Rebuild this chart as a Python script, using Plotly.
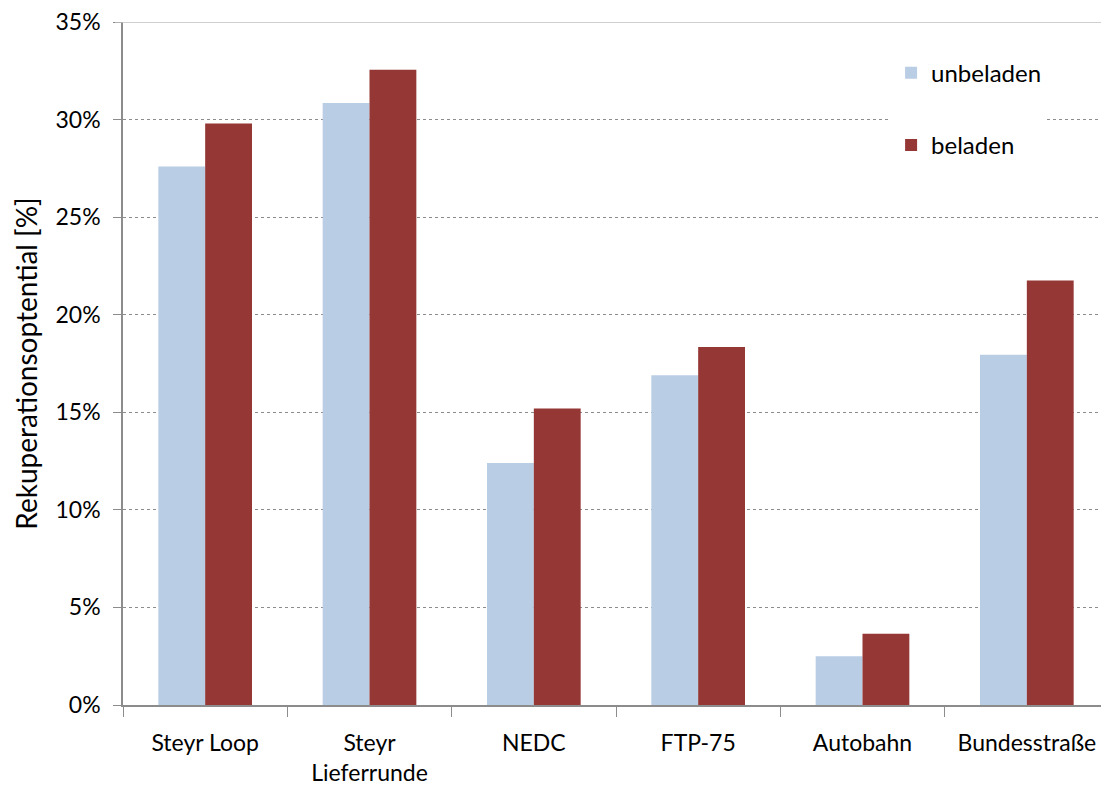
import plotly.graph_objects as go

categories = ["Steyr Loop", "Steyr<br>Lieferrunde", "NEDC", "FTP-75", "Autobahn", "Bundesstraße"]
unbeladen = [27.6, 30.85, 12.4, 16.9, 2.5, 17.95]
beladen = [29.8, 32.55, 15.2, 18.35, 3.65, 21.75]
y_ticks = [0, 5, 10, 15, 20, 25, 30, 35]
y_ticklabels = [f"{v}%" for v in y_ticks]

FONT = "Lato, 'Open Sans', sans-serif"

fig = go.Figure()
fig.add_trace(go.Bar(x=categories, y=unbeladen, name="unbeladen", legendgroup="a",
                     marker=dict(color="#B9CDE5", line=dict(width=0))))
fig.add_trace(go.Bar(x=categories, y=beladen, name="beladen", legendgroup="b",
                     marker=dict(color="#953735", line=dict(width=0))))

fig.update_layout(
    width=1101, height=779,
    margin=dict(l=115, r=0, t=14, b=82),
    paper_bgcolor="white", plot_bgcolor="white",
    font=dict(family=FONT, size=23, color="black"),
    barmode="group", bargap=0.43, bargroupgap=0,
    showlegend=True,
    legend=dict(x=0.779, y=0.958, xanchor="left", yanchor="top",
                bgcolor="white", font=dict(size=24, color="black"),
                tracegroupgap=38, traceorder="grouped",
                itemwidth=30),
    xaxis=dict(showline=True, linecolor="#8C8C8C", linewidth=1.5,
               ticks="outside", ticklen=10, tickcolor="#8C8C8C",
               tickson="boundaries", showgrid=False,
               tickfont=dict(size=23, color="black"),
               ticklabelstandoff=17, ticklabeloverflow="allow",
               automargin=False),
    yaxis=dict(range=[0, 35], tickvals=y_ticks, ticktext=y_ticklabels,
               showline=True, linecolor="#8C8C8C", linewidth=1.5,
               ticks="outside", ticklen=8, tickcolor="#8C8C8C",
               showgrid=True, gridcolor="#8C8C8C", gridwidth=1, griddash="dot",
               zeroline=False, automargin=False,
               tickfont=dict(size=23, color="black"),
               ticklabelstandoff=8, ticklabeloverflow="allow",
               title=dict(text="Rekuperationsoptential [%]", font=dict(size=28, color="black"),
                          standoff=10)),
)
# solid top border line at 35%
fig.add_shape(type="line", xref="paper", yref="y", x0=-0.008, x1=1, y0=35, y1=35,
              line=dict(color="#BFBFBF", width=1.5))
fig.write_html("out.html")
